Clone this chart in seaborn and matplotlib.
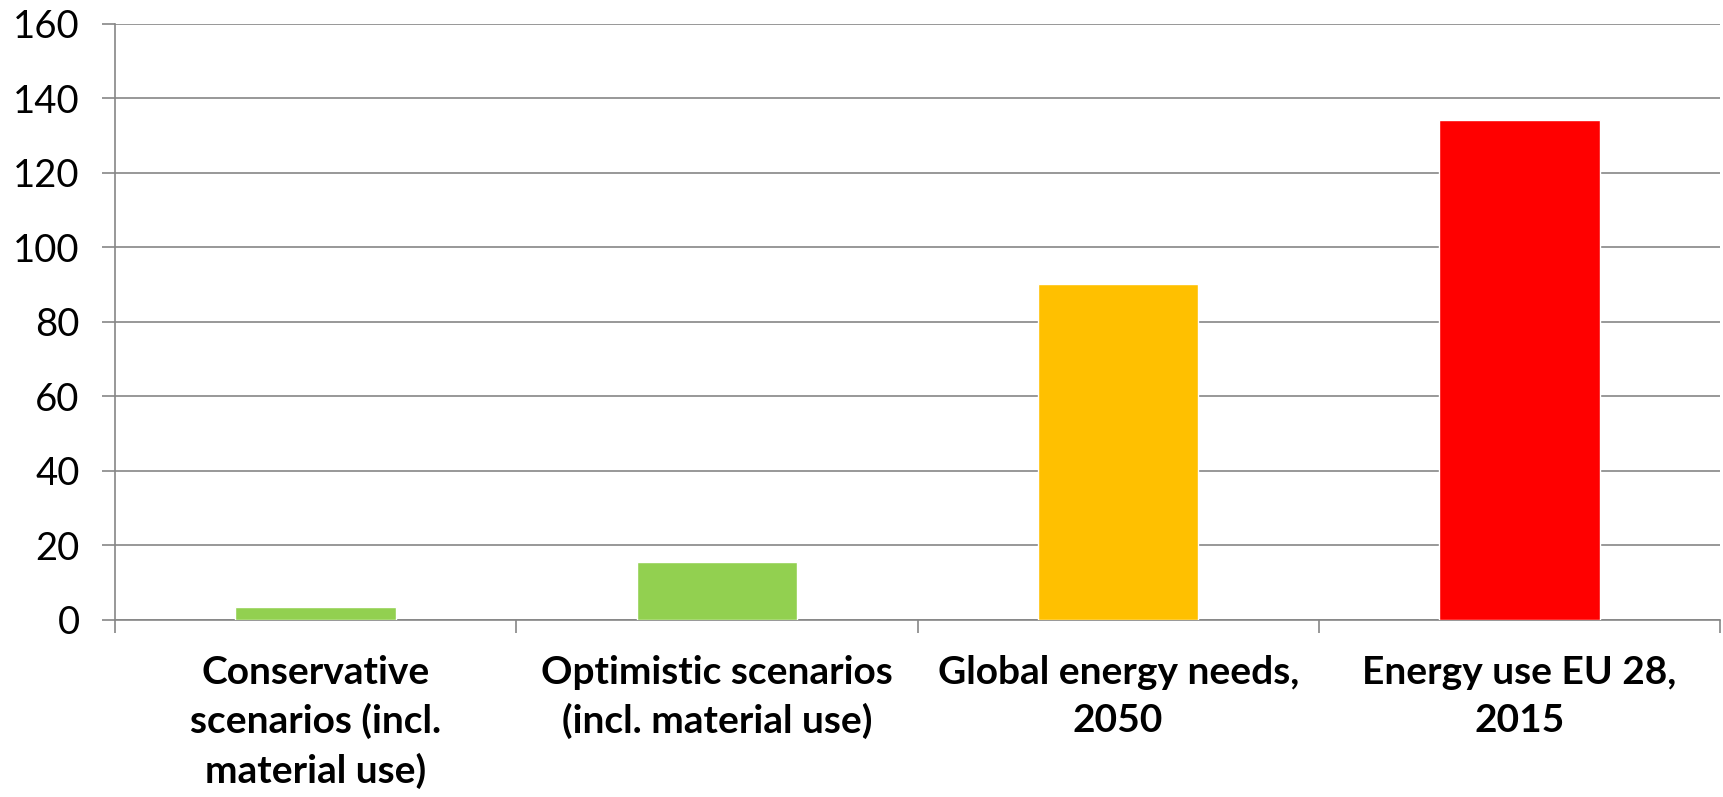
import matplotlib
matplotlib.use("Agg")
import matplotlib.pyplot as plt
import seaborn as sns
import pandas as pd
import numpy as np

# Chart data
categories = [
    "Conservative\nscenarios (incl.\nmaterial use)",
    "Optimistic scenarios\n(incl. material use)",
    "Global energy needs,\n2050",
    "Energy use EU 28,\n2015",
]
values = [3.5, 15.5, 90, 134]
bar_colors = ["#92D050", "#92D050", "#FFC000", "#FF0000"]
y_ticks = [0, 20, 40, 60, 80, 100, 120, 140, 160]

sns.set_style("white")
plt.rcParams["font.family"] = ["Lato", "DejaVu Sans"]

df = pd.DataFrame({"category": categories, "value": values})

fig = plt.figure(figsize=(17.23, 7.97), dpi=100)
ax = fig.add_axes([115 / 1723, 1 - 620 / 797, (1720 - 115) / 1723, (620 - 23.5) / 797])

sns.barplot(
    data=df, x="category", y="value", hue="category",
    palette=bar_colors, width=0.4, saturation=1, legend=False, ax=ax,
    zorder=3,
)

grid_color = "#868686"
ax.set_ylim(0, 160)
ax.set_xlim(-0.5, 3.5)
ax.set_yticks(y_ticks)
ax.yaxis.grid(True, color=grid_color, linewidth=1.2, zorder=0)
ax.set_axisbelow(True)

for side in ["top", "right"]:
    ax.spines[side].set_visible(False)
ax.spines["left"].set_color(grid_color)
ax.spines["left"].set_linewidth(1.2)
ax.spines["bottom"].set_color(grid_color)
ax.spines["bottom"].set_linewidth(1.2)

ax.set_xlabel("")
ax.set_ylabel("")

# y ticks
ax.tick_params(axis="y", which="major", direction="out", length=9.5, width=1.2,
               color=grid_color, pad=16, labelsize=27.5, labelcolor="black", left=True)

# x category labels centred under bars, tick marks on category boundaries
ax.set_xticks(range(len(categories)))
ax.set_xticklabels(categories, fontsize=28, fontweight="bold", linespacing=1.45)
ax.tick_params(axis="x", which="major", length=0, pad=25, labelcolor="black")
ax.set_xticks(np.arange(-0.5, len(categories) + 0.5, 1.0), minor=True)
ax.tick_params(axis="x", which="minor", direction="out", length=9.5, width=1.2,
               color=grid_color, bottom=True)

fig.savefig("out.png", dpi=100, facecolor="white")
